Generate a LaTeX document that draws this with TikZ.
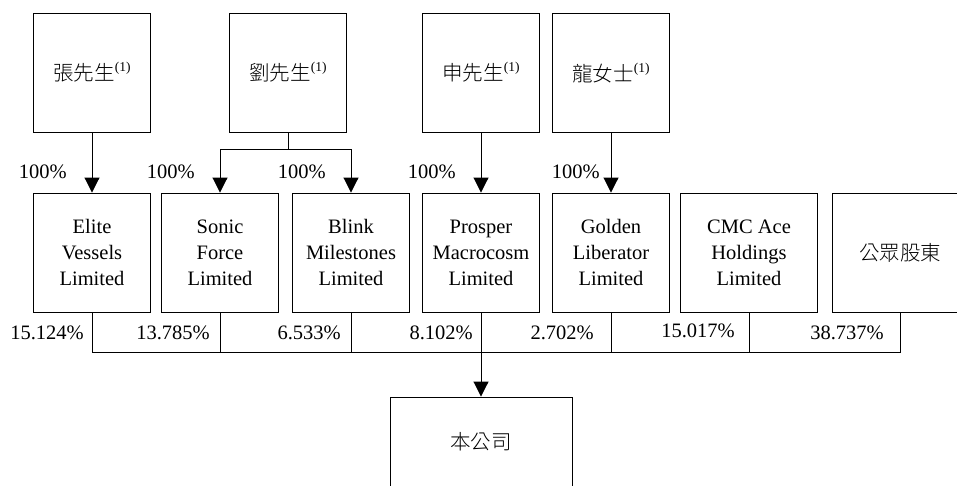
\documentclass[tikz,border=0pt]{standalone}
\usepackage{fontspec}
\setmainfont{Liberation Serif}
\newfontfamily\cjk{Noto Sans CJK TC Light}
\usetikzlibrary{arrows.meta}
\newcommand{\noteone}{\raisebox{0.45em}{\fontsize{13.5}{13.5}\selectfont(1)}}

\begin{document}
\begin{tikzpicture}[x=1pt, y=-1pt,
    box/.style={draw, line width=0.9pt, minimum width=117pt, minimum height=119pt,
      inner sep=0pt, align=center, font=\fontsize{20.5}{26}\selectfont},
    pct/.style={inner sep=0pt, anchor=east, font=\fontsize{20.5}{24}\selectfont},
    link/.style={line width=0.9pt},
    arr/.style={link, -{Triangle[width=15pt,length=15pt]}}]
    \useasboundingbox (0,0) rectangle (957,485);
    \clip (0,0) rectangle (957,485);

    % owners
    \node[box] (zhang) at (92,72.5) {{\cjk 張先生}\noteone};
    \node[box] (liu) at (288,72.5) {{\cjk 劉先生}\noteone};
    \node[box] (shen) at (481,72.5) {{\cjk 申先生}\noteone};
    \node[box] (long) at (611,73) {{\cjk 龍女士}\noteone};

    % shareholders
    \node[box] (elite) at (92,252.5) {Elite\\Vessels\\Limited};
    \node[box] (sonic) at (220,252.5) {Sonic\\Force\\Limited};
    \node[box] (blink) at (351,252.5) {Blink\\Milestones\\Limited};
    \node[box] (prosper) at (481,252.5) {Prosper\\Macrocosm\\Limited};
    \node[box] (golden) at (611,252.5) {Golden\\Liberator\\Limited};
    \node[box, minimum width=137pt] (cmc) at (749,252.5) {CMC Ace\\Holdings\\Limited};
    \node[box, minimum width=136pt] (public) at (900,252.5) {\cjk 公眾股東};

    % company
    \node[box, minimum width=182pt, minimum height=90pt] (company) at (481,442) {\cjk 本公司};

    % top links
    \draw[arr] (zhang) -- (elite);
    \draw[arr] (shen) -- (prosper);
    \draw[arr] (long) -- (golden);
    \draw[link] (liu.south) -- ++(0,17) coordinate (liufork);
    \draw[arr] (liufork) -| (sonic.north);
    \draw[arr] (liufork) -| (blink.north);

    \node[pct] (zhangpct) at (67,172) {100\%};
    \node[pct] (sonicpct) at (195,172) {100\%};
    \node[pct] (blinkpct) at (326,172) {100\%};
    \node[pct] (prosperpct) at (456,172) {100\%};
    \node[pct] (goldenpct) at (600,172) {100\%};

    % bus to company
    \draw[link] (elite.south) -- ++(0,40) coordinate (bus)
      -- (bus -| public.south) -- (public.south);
    \draw[link] (sonic.south) -- (sonic.south |- bus);
    \draw[link] (blink.south) -- (blink.south |- bus);
    \draw[link] (prosper.south) -- (prosper.south |- bus);
    \draw[link] (golden.south) -- (golden.south |- bus);
    \draw[link] (cmc.south) -- (cmc.south |- bus);
    \draw[arr] (company.north |- bus) -- (company.north);

    \node[pct] (elitesh) at (84,333) {15.124\%};
    \node[pct] (sonicsh) at (210,333) {13.785\%};
    \node[pct] (blinksh) at (341,333) {6.533\%};
    \node[pct] (prospersh) at (473,333) {8.102\%};
    \node[pct] (goldensh) at (594,333) {2.702\%};
    \node[pct] (cmcsh) at (735,331) {15.017\%};
    \node[pct] (publicsh) at (884,333) {38.737\%};
\end{tikzpicture}
\end{document}
